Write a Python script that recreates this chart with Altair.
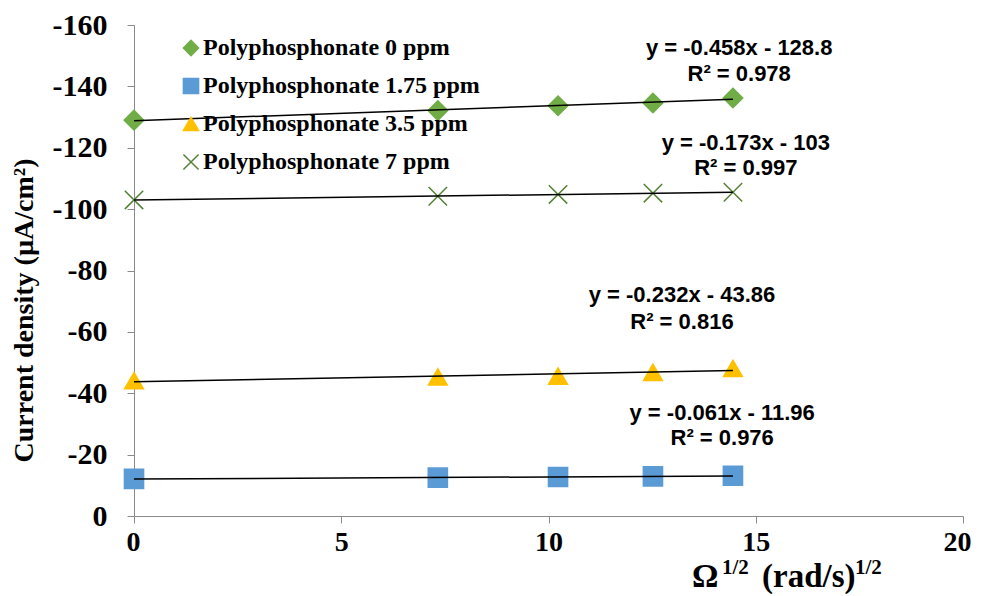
import altair as alt
import pandas as pd

# ---- data ----
series_names = [
    "Polyphosphonate 0 ppm",
    "Polyphosphonate 1.75 ppm",
    "Polyphosphonate 3.5 ppm",
    "Polyphosphonate 7 ppm",
]
omega_sqrt = [0, 7.33, 10.23, 12.52, 14.45]
cd_0ppm = [-129.0, -132.1, -133.7, -134.6, -136.2]
cd_175ppm = [-12.1, -12.5, -12.7, -12.9, -13.1]
cd_35ppm = [-44.1, -45.3, -45.6, -46.8, -48.1]
cd_7ppm = [-103.0, -104.2, -104.8, -105.2, -105.5]

eq_text = ["y = -0.458x - 128.8", "y = -0.061x - 11.96", "y = -0.232x - 43.86", "y = -0.173x - 103"]
r2_text = ["R² = 0.978", "R² = 0.976", "R² = 0.816", "R² = 0.997"]
eq_x = [14.6, 14.19, 13.22, 14.76]
eq_y = [-152.5, -33.6, -72.0, -121.5]
r2_y = [-144.0, -25.4, -63.2, -113.4]

x_ticks = [0, 5, 10, 15, 20]
y_ticks = [-160, -140, -120, -100, -80, -60, -40, -20, 0]

# ---- styles ----
colors = ["#70AD47", "#5B9BD5", "#FFC000", "#548235"]
shapes = ["diamond", "square", "triangle-up", "M-1,-1L1,1M1,-1L-1,1"]
sizes = [380, 340, 380, 650]

rows = []
for name, vals in zip(series_names, [cd_0ppm, cd_175ppm, cd_35ppm, cd_7ppm]):
    for xv, yv in zip(omega_sqrt, vals):
        rows.append({"series": name, "marker": name, "x": xv, "y": yv})
df = pd.DataFrame(rows)

ann_rows = []
for t, r, ex, ey, ry in zip(eq_text, r2_text, eq_x, eq_y, r2_y):
    ann_rows.append({"x": ex, "y": ey, "t": t})
    ann_rows.append({"x": ex, "y": ry, "t": r})
ann = pd.DataFrame(ann_rows)

SERIF = "Liberation Serif"
AXC = "#8a8a8a"

xs = alt.Scale(domain=[0, 20], nice=False)
ys = alt.Scale(domain=[-160, 0], reverse=True, nice=False)

xaxis = alt.Axis(
    values=x_ticks, title=None, grid=False,
    labelFont=SERIF, labelFontWeight="bold", labelFontSize=28, labelColor="black",
    labelPadding=5, tickSize=7, tickColor=AXC, domainColor=AXC,
    labelFlush=True, labelFlushOffset=8,
)
yaxis = alt.Axis(
    values=y_ticks, grid=False, labelExpr="'' + datum.value",
    labelFont=SERIF, labelFontWeight="bold", labelFontSize=30, labelColor="black",
    labelPadding=20, tickSize=7, tickColor=AXC, domainColor=AXC,
    title="Current density (µA/cm²)", titleFont=SERIF, titleFontWeight="bold",
    titleFontSize=28, titleColor="black", titleX=-110, titleY=285, titleAngle=270,
    titleAlign="center", titleBaseline="middle", titleLimit=600,
)

legend = alt.Legend(
    orient="none", legendX=45, legendY=11, title=None, padding=0,
    symbolSize=230, symbolStrokeWidth=1.5,
    labelFont=SERIF, labelFontWeight="bold", labelFontSize=24, labelColor="black",
    labelOffset=0, rowPadding=14, labelLimit=400,
)

points = alt.Chart(df).mark_point(filled=True, opacity=1, strokeWidth=1.5).encode(
    x=alt.X("x:Q", scale=xs, axis=xaxis),
    y=alt.Y("y:Q", scale=ys, axis=yaxis),
    fill=alt.Fill("series:N", scale=alt.Scale(domain=series_names, range=colors), legend=legend),
    stroke=alt.Stroke("series:N", scale=alt.Scale(domain=series_names, range=colors), legend=legend),
    shape=alt.Shape("series:N", scale=alt.Scale(domain=series_names, range=shapes), legend=legend),
    size=alt.Size("marker:N", scale=alt.Scale(range=sizes), legend=None),
)

trend = alt.Chart(df).transform_regression(
    "x", "y", groupby=["series"]
).mark_line(color="black", strokeWidth=1.5).encode(
    x=alt.X("x:Q", scale=xs),
    y=alt.Y("y:Q", scale=ys),
    detail="series:N",
)

labels = alt.Chart(ann).mark_text(
    font="Liberation Sans", fontWeight="bold", fontSize=22, color="black",
    align="center", baseline="middle",
).encode(x=alt.X("x:Q", scale=xs), y=alt.Y("y:Q", scale=ys), text="t:N")

def title_piece(txt, px, py, size):
    return alt.Chart(pd.DataFrame({"t": [txt]})).mark_text(
        font=SERIF, fontWeight="bold", fontSize=size, color="black",
        align="left", baseline="alphabetic",
    ).encode(text="t:N", x=alt.value(px), y=alt.value(py))

xtitle = (
    title_piece("Ω", 558, 562, 33)
    + title_piece("1/2", 588, 549, 21)
    + title_piece("(rad/s)", 628, 562, 33)
    + title_piece("1/2", 721, 549, 21)
)

chart = alt.layer(points, trend, labels, xtitle).properties(
    width=829, height=491,
    autosize=alt.AutoSizeParams(type="none"),
    padding={"left": 126, "top": 17, "right": 12, "bottom": 80},
    background="white",
).configure_view(stroke=None)

chart.save("out.html", embed_options={"renderer": "svg", "actions": False})
